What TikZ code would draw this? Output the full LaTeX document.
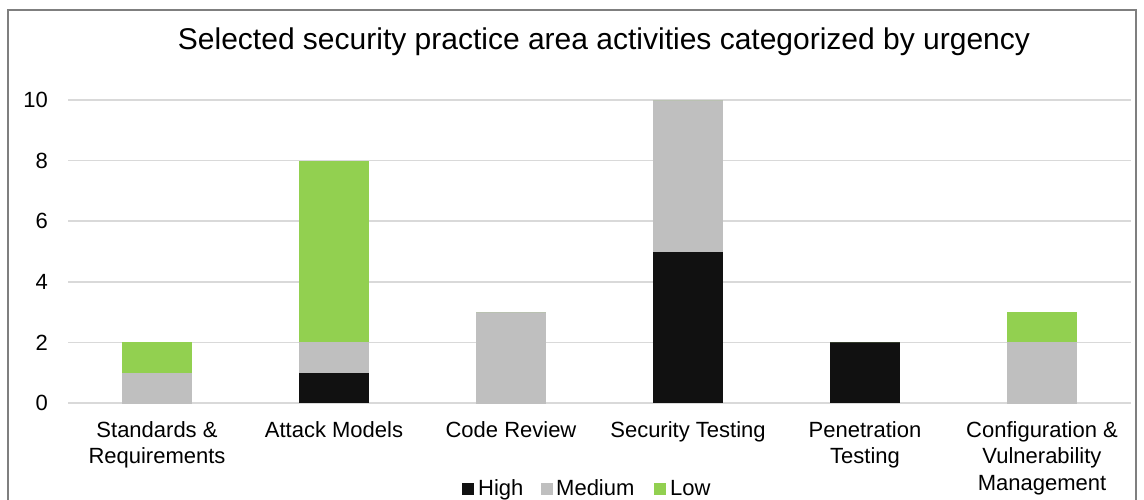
\documentclass[tikz,border=0pt]{standalone}
\usepackage{fontspec}
\setmainfont{Liberation Sans}
\definecolor{hi}{HTML}{111111}
\definecolor{med}{HTML}{BFBFBF}
\definecolor{lo}{HTML}{92D050}
\definecolor{grid}{HTML}{D9D9D9}
\definecolor{frame}{HTML}{7F7F7F}
\begin{document}
\begin{tikzpicture}[x=1pt,y=-1pt,
  ylab/.style={anchor=east,font=\fontsize{22}{26}\selectfont,inner sep=0pt},
  catlab/.style={anchor=north,align=center,font=\fontsize{22}{26.5}\selectfont,inner sep=0pt},
  leglab/.style={anchor=base west,font=\fontsize{22}{26}\selectfont,inner sep=0pt},
  gridline/.style={draw=grid,line width=1.5pt}]
\useasboundingbox (0,0) rectangle (1144,500);
\begin{scope}
\clip (0,0) rectangle (1144,500);
\draw[frame,line width=2pt] (8,10) rectangle (1136,520);
\end{scope}
% title
\node[anchor=base,font=\fontsize{30}{36}\selectfont,inner sep=0pt] (title) at (604,50) {Selected security practice area activities categorized by urgency};
% horizontal grid and value axis labels (0..10, 30.3 px per unit)
\foreach \v in {0,2,4,6,8,10}{
  \draw[gridline] (68,{403-30.3*\v}) -- (1131,{403-30.3*\v});
  \node[ylab] (y\v) at (48,{403-30.3*\v}) {\v};
}
% stacked bars: centre, high, medium, low
\foreach \c/\h/\m/\l [count=\i] in {157/0/1/1, 334/1/1/6, 511/0/3/0, 688/5/5/0, 865/2/0/0, 1042/0/2/1}{
  \pgfmathsetmacro{\ya}{403-30.3*\h}
  \pgfmathsetmacro{\yb}{403-30.3*(\h+\m)}
  \pgfmathsetmacro{\yc}{403-30.3*(\h+\m+\l)}
  \fill[hi] (\c-35,403) rectangle (\c+35,\ya);
  \fill[med] (\c-35,\ya) rectangle (\c+35,\yb);
  \fill[lo] (\c-35,\yb) rectangle (\c+35,\yc);
}
% category labels
\node[catlab] (c1) at (157,421) {Standards \&\\Requirements};
\node[catlab] (c2) at (334,421) {Attack Models};
\node[catlab] (c3) at (511,421) {Code Review};
\node[catlab] (c4) at (688,421) {Security Testing};
\node[catlab] (c5) at (865,421) {Penetration\\Testing};
\node[catlab] (c6) at (1042,421) {Configuration \&\\Vulnerability\\Management};
% legend
\fill[hi] (462,483) rectangle (473.5,494.5);
\node[leglab] (lh) at (478,495) {High};
\fill[med] (541,483) rectangle (552.5,494.5);
\node[leglab] (lm) at (556,495) {Medium};
\fill[lo] (654,483) rectangle (665.5,494.5);
\node[leglab] (ll) at (670,495) {Low};
\end{tikzpicture}
\end{document}
